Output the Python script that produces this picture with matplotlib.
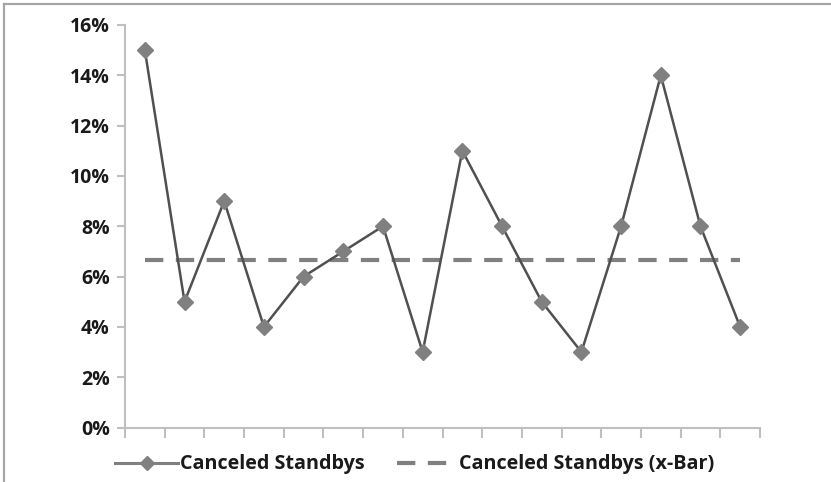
import matplotlib
matplotlib.use("Agg")
import matplotlib.pyplot as plt
from matplotlib.lines import Line2D
from matplotlib.ticker import FuncFormatter, FixedLocator

# data
samples = list(range(1, 17))
canceled = [15, 5, 9, 4, 6, 7, 8, 3, 11, 8, 5, 3, 8, 14, 8, 4]
xbar = [6.67] * 16
yticks = [0, 2, 4, 6, 8, 10, 12, 14, 16]

plt.rcParams['font.family'] = ['Open Sans', 'DejaVu Sans']

W, H = 831, 482
fig = plt.figure(figsize=(W / 100, H / 100), dpi=100)
ax = fig.add_axes([125 / W, 1 - 427.5 / H, 635 / W, (427.5 - 25) / H])

xs = list(range(len(samples)))
l1, = ax.plot(xs, canceled, color='#505050', lw=1.8, marker='D', markersize=8,
              markerfacecolor='#808080', markeredgecolor='#808080',
              label='Canceled Standbys', zorder=3)
l2, = ax.plot(xs, xbar, color='#808080', lw=3.0, dashes=(4.4, 3.0),
              label='Canceled Standbys (x-Bar)', zorder=2)

ax.set_xlim(-0.5, len(samples) - 0.5)
ax.set_ylim(0, 16)
ax.set_yticks(yticks)
ax.yaxis.set_major_formatter(FuncFormatter(lambda v, p: f"{int(v)}%"))
ax.xaxis.set_major_locator(FixedLocator([i - 0.5 for i in range(len(samples) + 1)]))
ax.set_xticklabels([])

for s in ['top', 'right']:
    ax.spines[s].set_visible(False)
for s in ['left', 'bottom']:
    ax.spines[s].set_color('#bfbfbf')
    ax.spines[s].set_linewidth(1.5)
ax.tick_params(axis='both', direction='out', color='#bfbfbf', width=1.5)
ax.tick_params(axis='x', length=7)
ax.tick_params(axis='y', length=6, pad=5, labelsize=14, labelcolor='#1a1a1a')
for lab in ax.get_yticklabels():
    lab.set_fontweight('bold')

prop = {'weight': 'bold', 'size': 14.2}
ly = 1 - 464.5 / H
leg1 = fig.legend(handles=[l1], loc='center left', bbox_to_anchor=(115 / W, ly),
                  frameon=False, handlelength=3.2, handletextpad=0.12,
                  borderpad=0, borderaxespad=0, prop=prop)
leg2 = fig.legend(handles=[l2], loc='center left', bbox_to_anchor=(397 / W, ly),
                  frameon=False, handlelength=2.55, handletextpad=0.6,
                  borderpad=0, borderaxespad=0, prop=prop)
h = leg1.legend_handles[0]
h.set_color('#808080')
h.set_linewidth(2.2)
h.set_markersize(7)
for lg in (leg1, leg2):
    for t in lg.get_texts():
        t.set_color('#1a1a1a')

# outer border (top and left)
fig.add_artist(Line2D([4 / W, 1], [1 - 4 / H, 1 - 4 / H], color='#a6a6a6', lw=1.6,
                      transform=fig.transFigure))
fig.add_artist(Line2D([4 / W, 4 / W], [0, 1 - 4 / H], color='#a6a6a6', lw=1.6,
                      transform=fig.transFigure))

fig.savefig('out.png', dpi=100)
